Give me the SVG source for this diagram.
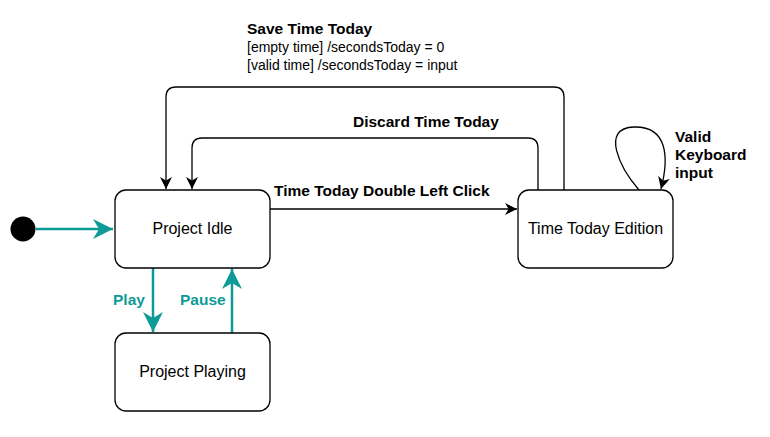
<svg xmlns="http://www.w3.org/2000/svg" width="770" height="437" viewBox="0 0 770 437">
<style>
.node{fill:#fff;stroke:#000;stroke-width:1.3}
.lbl{font-family:"Liberation Sans",Arial,sans-serif;font-size:16px;fill:#000;text-anchor:middle}
.b{font-family:"Liberation Sans",Arial,sans-serif;font-size:15.5px;font-weight:bold;fill:#000}
.r{font-family:"Liberation Sans",Arial,sans-serif;font-size:14px;fill:#000}
.t{font-family:"Liberation Sans",Arial,sans-serif;font-size:15.5px;font-weight:bold;fill:#0e9a97}
.e{fill:none;stroke:#000;stroke-width:1.3}
.et{fill:none;stroke:#0e9a97;stroke-width:2.5}
</style>
<defs>
<marker id="ab" markerWidth="12" markerHeight="12" refX="10" refY="5" orient="auto" markerUnits="userSpaceOnUse" viewBox="0 0 10 10">
<path d="M0,0 L10,5 L0,10 L3,5 Z" fill="#000"/>
</marker>
<marker id="at" markerWidth="20" markerHeight="20" refX="10" refY="5" orient="auto" markerUnits="userSpaceOnUse" viewBox="0 0 10 10">
<path d="M0,0 L10,5 L0,10 L3,5 Z" fill="#0e9a97"/>
</marker>
</defs>
<g id="connectors">
<path class="et" d="M36 229 H113" marker-end="url(#at)"/>
<path class="et" d="M153 268 V332" marker-end="url(#at)"/>
<path class="et" d="M232 333 V269" marker-end="url(#at)"/>
<path class="e" d="M270 209 H517" marker-end="url(#ab)"/>
<path class="e" d="M564 190 V97 Q564 87 554 87 H176 Q166 87 166 97 V189" marker-end="url(#ab)"/>
<path class="e" d="M538 190 V148 Q538 138 528 138 H202 Q192 138 192 148 V189" marker-end="url(#ab)"/>
<path class="e" d="M639 190 C620 168 600 128 634 127 C668 126 669 158 661 189" marker-end="url(#ab)"/>
</g>
<g id="labels">
<text class="b" x="247" y="34">Save Time Today</text>
<text class="r" x="247" y="52">[empty time] /secondsToday = 0</text>
<text class="r" x="247" y="70">[valid time] /secondsToday = input</text>
<text class="b" x="353" y="127">Discard Time Today</text>
<text class="b" x="274" y="196">Time Today Double Left Click</text>
<text class="b" x="675" y="142">Valid</text>
<text class="b" x="675" y="160">Keyboard</text>
<text class="b" x="675" y="178">input</text>
<text class="t" x="113" y="305">Play</text>
<text class="t" x="180" y="305">Pause</text>
</g>
<g id="initial"><circle cx="23" cy="229" r="12.5" fill="#000"/></g>
<g id="project-idle"><rect class="node" x="115" y="190" width="155" height="78" rx="11"/><text class="lbl" x="192.5" y="234">Project Idle</text></g>
<g id="project-playing"><rect class="node" x="115" y="333" width="155" height="78" rx="11"/><text class="lbl" x="192.5" y="377">Project Playing</text></g>
<g id="time-today-edition"><rect class="node" x="518" y="190" width="155" height="78" rx="11"/><text class="lbl" x="595.5" y="234">Time Today Edition</text></g>
</svg>
